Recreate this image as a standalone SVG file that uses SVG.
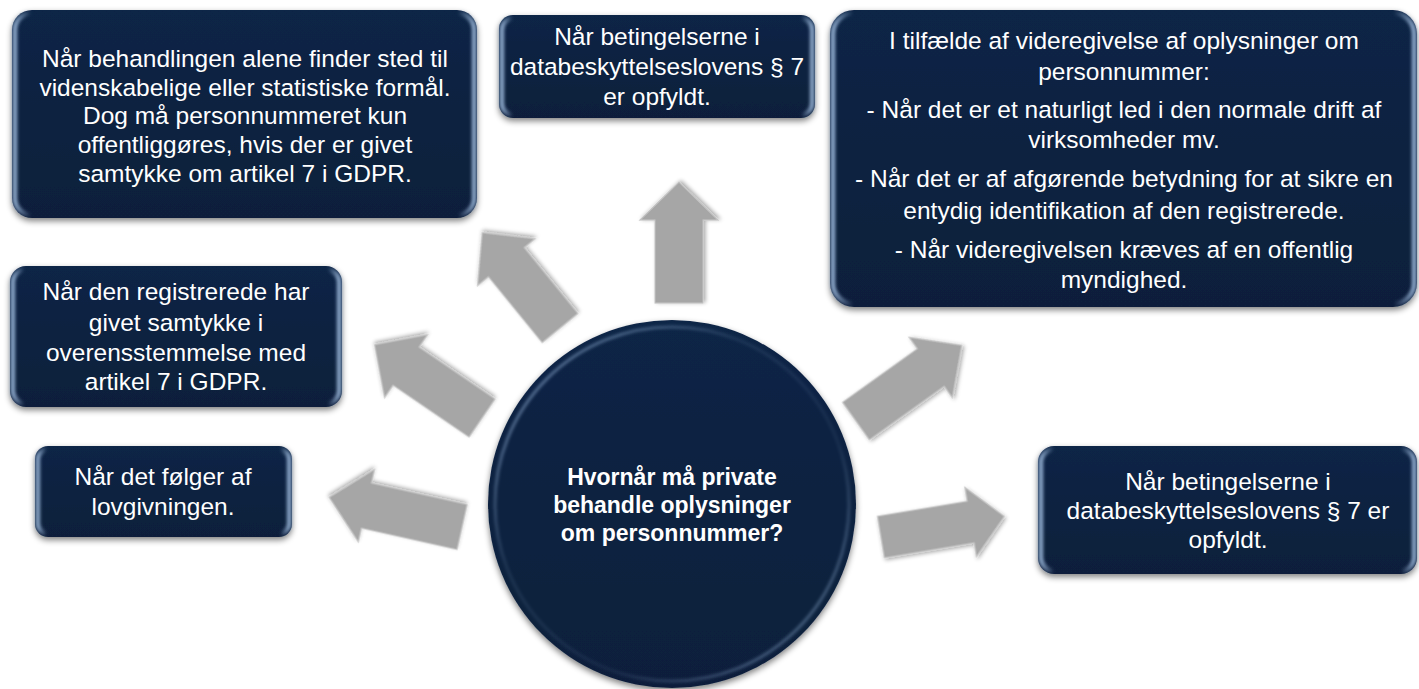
<svg xmlns="http://www.w3.org/2000/svg" width="1419" height="689" viewBox="0 0 1419 689">
<defs>
  <filter id="shadow" x="-10%" y="-10%" width="120%" height="130%">
    <feGaussianBlur in="SourceAlpha" stdDeviation="3"/>
    <feOffset dx="0" dy="3" result="b"/>
    <feComponentTransfer><feFuncA type="linear" slope="0.5"/></feComponentTransfer>
    <feMerge><feMergeNode/><feMergeNode in="SourceGraphic"/></feMerge>
  </filter>
  <filter id="ashadow" x="-20%" y="-20%" width="140%" height="140%">
    <feGaussianBlur in="SourceAlpha" stdDeviation="2"/>
    <feOffset dx="1" dy="2"/>
    <feComponentTransfer><feFuncA type="linear" slope="0.35"/></feComponentTransfer>
    <feMerge><feMergeNode/><feMergeNode in="SourceGraphic"/></feMerge>
  </filter>
  <filter id="soft" x="-5%" y="-5%" width="110%" height="110%">
    <feGaussianBlur stdDeviation="1.6"/>
  </filter>
  <linearGradient id="fillG" x1="0" y1="0" x2="0" y2="1">
    <stop offset="0" stop-color="#0f2546"/>
    <stop offset="1" stop-color="#0c1f3b"/>
  </linearGradient>
  <linearGradient id="bev" x1="0" y1="0" x2="1" y2="0">
    <stop offset="0" stop-color="#8aa6c8" stop-opacity="0.95"/>
    <stop offset="0.035" stop-color="#8aa6c8" stop-opacity="0"/>
    <stop offset="0.965" stop-color="#8aa6c8" stop-opacity="0"/>
    <stop offset="1" stop-color="#8aa6c8" stop-opacity="0.95"/>
  </linearGradient>
  <linearGradient id="ring" x1="0" y1="0" x2="1" y2="1">
    <stop offset="0" stop-color="#7f9cc0" stop-opacity="0.9"/>
    <stop offset="0.35" stop-color="#7f9cc0" stop-opacity="0.15"/>
    <stop offset="0.65" stop-color="#7f9cc0" stop-opacity="0.1"/>
    <stop offset="1" stop-color="#7f9cc0" stop-opacity="0.7"/>
  </linearGradient>
  <style>
    .box { fill: url(#fillG); filter: url(#shadow); }
    .bevel { fill: none; stroke: url(#bev); stroke-width: 5; filter: url(#soft); }
    .t { font-family: "Liberation Sans", Arial, sans-serif; font-size: 24.5px; fill: #ffffff; text-anchor: middle; }
    .tb { font-family: "Liberation Sans", Arial, sans-serif; font-size: 23px; font-weight: bold; fill: #ffffff; text-anchor: middle; }
    .arrow { fill: #a6a6a6; stroke: #c4c4c4; stroke-width: 1.2; filter: url(#ashadow); }
  </style>
</defs>
<rect width="1419" height="689" fill="#ffffff"/>

<g id="connectors">
  <path class="arrow" transform="translate(679,303) rotate(-90)" d="M0,-24 L83,-24 L83,-39 L121,0 L83,39 L83,24 L0,24 Z"/>
  <path class="arrow" transform="translate(560,328) rotate(-129.2)" d="M0,-23 L85,-23 L85,-37 L123,0 L85,37 L85,23 L0,23 Z"/>
  <path class="arrow" transform="translate(482,418) rotate(-145.7)" d="M0,-23 L92,-23 L92,-38 L130,0 L92,38 L92,23 L0,23 Z"/>
  <path class="arrow" transform="translate(462,527) rotate(-167.4)" d="M0,-23 L98,-23 L98,-37 L136,0 L98,37 L98,23 L0,23 Z"/>
  <path class="arrow" transform="translate(856,421) rotate(-35.6)" d="M0,-23 L92,-23 L92,-37 L130,0 L92,37 L92,23 L0,23 Z"/>
  <path class="arrow" transform="translate(881,537) rotate(-9.5)" d="M0,-21 L91,-21 L91,-35 L125,0 L91,35 L91,21 L0,21 Z"/>
</g>

<g id="center">
  <circle cx="672" cy="504" r="184" fill="url(#fillG)" filter="url(#shadow)"/>
  <circle cx="672" cy="504" r="177" fill="none" stroke="url(#ring)" stroke-width="3" filter="url(#soft)"/>
  <text class="tb" x="672" y="485">Hvornår må private</text>
  <text class="tb" x="672" y="513">behandle oplysninger</text>
  <text class="tb" x="672" y="541">om personnummer?</text>
</g>

<g id="box1">
  <rect class="box" x="12" y="10" width="465" height="208" rx="20"/>
  <rect class="bevel" x="15" y="13" width="459" height="202" rx="17"/>
  <text class="t" x="245" y="67">Når behandlingen alene finder sted til</text>
  <text class="t" x="245" y="96">videnskabelige eller statistiske formål.</text>
  <text class="t" x="245" y="124">Dog må personnummeret kun</text>
  <text class="t" x="245" y="153">offentliggøres, hvis der er givet</text>
  <text class="t" x="245" y="182">samtykke om artikel 7 i GDPR.</text>
</g>

<g id="box2">
  <rect class="box" x="499" y="15" width="316" height="103" rx="14"/>
  <rect class="bevel" x="502" y="18" width="310" height="97" rx="12"/>
  <text class="t" x="657" y="45">Når betingelserne i</text>
  <text class="t" x="657" y="75">databeskyttelseslovens § 7</text>
  <text class="t" x="657" y="105">er opfyldt.</text>
</g>

<g id="box3">
  <rect class="box" x="830" y="10" width="587" height="297" rx="24"/>
  <rect class="bevel" x="833" y="13" width="581" height="291" rx="21"/>
  <text class="t" x="1124" y="49">I tilfælde af videregivelse af oplysninger om</text>
  <text class="t" x="1124" y="80">personnummer:</text>
  <text class="t" x="1124" y="118">- Når det er et naturligt led i den normale drift af</text>
  <text class="t" x="1124" y="148">virksomheder mv.</text>
  <text class="t" x="1124" y="187">- Når det er af afgørende betydning for at sikre en</text>
  <text class="t" x="1124" y="219">entydig identifikation af den registrerede.</text>
  <text class="t" x="1124" y="258">- Når videregivelsen kræves af en offentlig</text>
  <text class="t" x="1124" y="288">myndighed.</text>
</g>

<g id="box4">
  <rect class="box" x="10" y="266" width="332" height="141" rx="16"/>
  <rect class="bevel" x="13" y="269" width="326" height="135" rx="14"/>
  <text class="t" x="176" y="300">Når den registrerede har</text>
  <text class="t" x="176" y="331">givet samtykke i</text>
  <text class="t" x="176" y="361">overensstemmelse med</text>
  <text class="t" x="176" y="390">artikel 7 i GDPR.</text>
</g>

<g id="box5">
  <rect class="box" x="35" y="446" width="257" height="91" rx="13"/>
  <rect class="bevel" x="38" y="449" width="251" height="85" rx="11"/>
  <text class="t" x="163" y="485">Når det følger af</text>
  <text class="t" x="163" y="515">lovgivningen.</text>
</g>

<g id="box6">
  <rect class="box" x="1038" y="446" width="379" height="128" rx="16"/>
  <rect class="bevel" x="1041" y="449" width="373" height="122" rx="14"/>
  <text class="t" x="1228" y="490">Når betingelserne i</text>
  <text class="t" x="1228" y="519">databeskyttelseslovens § 7 er</text>
  <text class="t" x="1228" y="548">opfyldt.</text>
</g>
</svg>
